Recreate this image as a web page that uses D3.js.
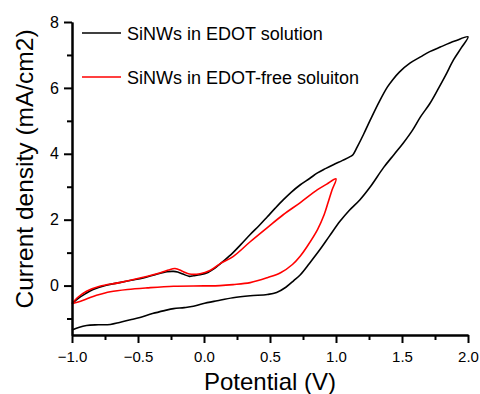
<!DOCTYPE html>
<html><head><meta charset="utf-8">
<script src="https://cdn.jsdelivr.net/npm/d3@7"></script>
<style>body{margin:0;background:#fff}svg{display:block}</style>
</head><body>
<svg id="c" width="480" height="394"></svg>
<script>
const xTicks = [-1.0, -0.5, 0.0, 0.5, 1.0, 1.5, 2.0];
const yTicks = [0, 2, 4, 6, 8];
const xMinor = [-0.75, -0.25, 0.25, 0.75, 1.25, 1.75];
const yMinor = [-1, 1, 3, 5, 7];
const seriesNames = ["SiNWs in EDOT solution", "SiNWs in EDOT-free soluiton"];
const seriesColors = ["#000000", "#ff0000"];

// SiNWs in EDOT solution (closed CV loop: forward scan then reverse)
const edotX = [-1.0,-0.95,-0.89,-0.8,-0.71,-0.64,-0.55,-0.485,-0.39,-0.3,-0.23,-0.15,-0.08,-0.01,0.10,0.22,0.35,0.48,0.55,0.62,0.68,0.73,0.80,0.88,0.95,1.03,1.1,1.18,1.26,1.36,1.44,1.51,1.58,1.64,1.71,1.77,1.83,1.89,1.95,2.0,
  1.9,1.79,1.71,1.64,1.56,1.48,1.43,1.39,1.33,1.26,1.21,1.16,1.13,1.11,1.05,0.98,0.92,0.86,0.80,0.73,0.66,0.60,0.54,0.48,0.42,0.35,0.28,0.22,0.15,0.08,0.03,-0.03,-0.08,-0.11,-0.16,-0.20,-0.23,-0.28,-0.37,-0.46,-0.55,-0.64,-0.74,-0.84,-0.9,-0.95,-1.0];
const edotY = [-1.35,-1.27,-1.21,-1.19,-1.18,-1.12,-1.03,-0.97,-0.85,-0.76,-0.70,-0.67,-0.63,-0.55,-0.46,-0.37,-0.31,-0.27,-0.21,-0.05,0.15,0.33,0.68,1.1,1.5,1.95,2.28,2.6,3.0,3.58,3.98,4.33,4.72,5.12,5.52,5.94,6.38,6.85,7.22,7.55,
  7.42,7.24,7.1,6.94,6.75,6.48,6.25,6.03,5.6,5.03,4.6,4.2,3.98,3.92,3.8,3.67,3.55,3.42,3.25,3.06,2.83,2.6,2.35,2.09,1.83,1.55,1.25,1.0,0.75,0.52,0.40,0.33,0.30,0.28,0.35,0.41,0.43,0.42,0.33,0.23,0.16,0.09,0.01,-0.12,-0.25,-0.38,-0.55];

// SiNWs in EDOT-free solution
const freeX = [-1.0,-0.92,-0.84,-0.77,-0.71,-0.58,-0.43,-0.23,0.0,0.12,0.22,0.35,0.48,0.58,0.67,0.73,0.78,0.86,0.91,0.94,0.97,1.0,
  0.93,0.86,0.73,0.60,0.48,0.35,0.22,0.12,0.045,-0.03,-0.11,-0.16,-0.22,-0.27,-0.33,-0.485,-0.64,-0.79,-0.89,-0.96,-1.0];
const freeY = [-0.55,-0.45,-0.33,-0.25,-0.19,-0.12,-0.07,-0.02,-0.01,0.0,0.03,0.09,0.24,0.39,0.64,0.9,1.18,1.7,2.15,2.52,2.9,3.24,
  3.08,2.91,2.52,2.15,1.76,1.33,0.88,0.66,0.46,0.36,0.35,0.43,0.52,0.47,0.39,0.23,0.09,-0.02,-0.17,-0.37,-0.55];

const svg = d3.select("#c");
const x = d3.scaleLinear().domain([-1, 2]).range([72, 468]);
const y = d3.scaleLinear().domain([-1.5, 8]).range([335, 22]);
const font = "Arial, 'Liberation Sans', sans-serif";

const line = d3.line().x(d => x(d[0])).y(d => y(d[1])).curve(d3.curveCatmullRom.alpha(0.5));
const series = [d3.zip(edotX, edotY), d3.zip(freeX, freeY)];
svg.selectAll("path.s").data(series).join("path").attr("class","s")
  .attr("d", line).attr("fill","none")
  .attr("stroke", (d,i) => seriesColors[i]).attr("stroke-width", 1.6)
  .attr("stroke-linejoin","round");

// axes
const gx = svg.append("g").attr("transform", "translate(0,335)");
gx.call(d3.axisBottom(x).tickValues(xTicks).tickFormat(d3.format(".1f")).tickSize(8).tickSizeOuter(0));
const gxm = svg.append("g").attr("transform", "translate(0,335)");
gxm.call(d3.axisBottom(x).tickValues(xMinor).tickFormat("").tickSize(5).tickSizeOuter(0));
const gy = svg.append("g").attr("transform", "translate(72,0)");
gy.call(d3.axisLeft(y).tickValues(yTicks).tickSize(8).tickSizeOuter(0));
const gym = svg.append("g").attr("transform", "translate(72,0)");
gym.call(d3.axisLeft(y).tickValues(yMinor).tickFormat("").tickSize(5).tickSizeOuter(0));

svg.selectAll(".domain, .tick line").attr("stroke","#000").attr("stroke-width",2);
gx.selectAll(".tick text").attr("font-size",15).attr("font-family",font).attr("fill","#000").attr("dy","1.05em");
gy.selectAll(".tick text").attr("font-size",16).attr("font-family",font).attr("fill","#000").attr("x",-13);

svg.append("text").attr("x", 270).attr("y", 390).attr("text-anchor","middle")
  .attr("font-family",font).attr("font-size",24).text("Potential (V)");
svg.append("text").attr("transform","translate(33,169) rotate(-90)").attr("text-anchor","middle")
  .attr("font-family",font).attr("font-size",24.5).text("Current density (mA/cm2)");

// legend
const lg = svg.append("g");
[33, 77].forEach((ly, i) => {
  lg.append("line").attr("x1",82).attr("x2",121).attr("y1",ly).attr("y2",ly)
    .attr("stroke",seriesColors[i]).attr("stroke-width",1.6);
  lg.append("text").attr("x",127).attr("y",ly+6.5).attr("font-family",font).attr("font-size",18)
    .text(seriesNames[i]);
});
</script>
</body></html>
